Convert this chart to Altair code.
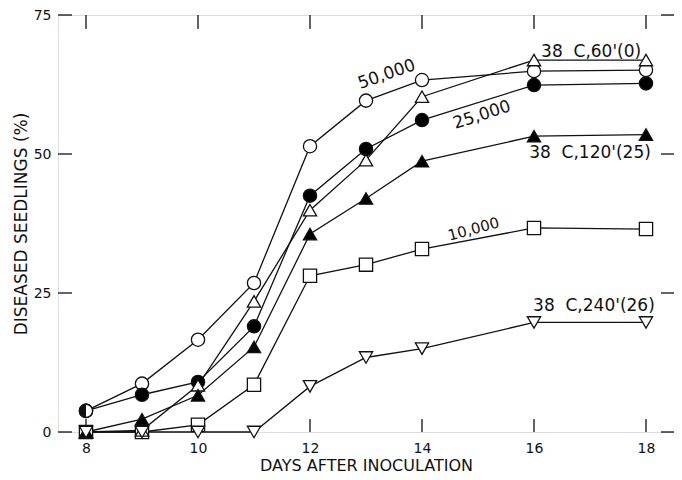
import altair as alt
import pandas as pd

# ---- data ----
days = [8, 9, 10, 11, 12, 13, 14, 16, 18]
series_names = ["50,000", "25,000", "10,000", "38 C,60'(0)", "38 C,120'(25)", "38 C,240'(26)"]
v_50000 = [3.8, 8.7, 16.6, 26.8, 51.4, 59.6, 63.3, 64.9, 65.1]
v_25000 = [3.8, 6.7, 9.0, 19.0, 42.5, 50.9, 56.1, 62.4, 62.7]
v_10000 = [0.0, 0.0, 1.3, 8.5, 28.1, 30.1, 32.9, 36.7, 36.5]
v_60 = [0.0, 0.3, 8.4, 23.5, 39.9, 48.9, 60.3, 66.9, 66.9]
v_120 = [0.0, 2.3, 6.6, 15.3, 35.6, 42.0, 48.7, 53.2, 53.5]
v_240 = [0.0, 0.0, 0.0, 0.0, 8.2, 13.4, 15.0, 19.7, 19.7]

shapes = ["circle", "circle", "square", "triangle-up", "triangle-up", "triangle-down"]
fills = ["white", "black", "white", "white", "black", "white"]
sizes = [175, 175, 110, 170, 170, 170]

x_ticks = [8, 10, 12, 14, 16, 18]
y_ticks = [0, 25, 50, 75]

label_text = ["50,000", "25,000", "10,000", "38\u00a0 C,60'(0)", "38\u00a0 C,120'(25)", "38\u00a0 C,240'(26)"]
label_x = [13.37, 15.07, 14.92, 17.02, 17.0, 17.07]
label_y = [64.3, 57.0, 36.5, 68.4, 50.2, 22.7]
label_angle = [341, 342, 345, 0, 0, 0]
label_size = [17, 17, 15, 17, 17, 17]

# ---- build tables ----
all_vals = [v_50000, v_25000, v_10000, v_60, v_120, v_240]
rows = []
for name, vals in zip(series_names, all_vals):
    for d, v in zip(days, vals):
        rows.append({"series": name, "day": d, "value": v})
df = pd.DataFrame(rows)
half = df[(df.series == "25,000") & (df.day == 8)]

labels = pd.DataFrame({"text": label_text, "day": label_x, "value": label_y,
                       "angle": label_angle, "fs": label_size})
xt = pd.DataFrame({"day": x_ticks})
yt = pd.DataFrame({"value": y_ticks})

W, H = 616, 417
FONT = "DejaVu Sans"
INK = "#111111"

xscale = alt.Scale(domain=[7.5, 18.5], nice=False, zero=False)
yscale = alt.Scale(domain=[0, 75], nice=False)

xaxis = alt.Axis(values=x_ticks, format="d", ticks=False, tickSize=0, domain=False, grid=False,
                 labelFont=FONT, labelFontSize=14, labelColor=INK, labelPadding=9,
                 title="DAYS AFTER INOCULATION", titleFont=FONT, titleFontSize=16,
                 titleFontWeight="normal", titleColor=INK, titlePadding=2)
yaxis = alt.Axis(values=y_ticks, format="d", ticks=False, tickSize=0, domain=False, grid=False,
                 labelFont=FONT, labelFontSize=14, labelColor=INK, labelPadding=7,
                 title="DISEASED SEEDLINGS (%)", titleFont=FONT, titleFontSize=17,
                 titleFontWeight="normal", titleColor=INK, titlePadding=3)

base = alt.Chart(df)

lines = base.mark_line(color=INK, strokeWidth=1.3).encode(
    x=alt.X("day:Q", scale=xscale, axis=xaxis),
    y=alt.Y("value:Q", scale=yscale, axis=yaxis),
    detail="series:N",
    order="day:Q",
)

points = base.mark_point(filled=True, stroke=INK, strokeWidth=1.3, opacity=1).encode(
    x=alt.X("day:Q", scale=xscale),
    y=alt.Y("value:Q", scale=yscale),
    shape=alt.Shape("series:N", scale=alt.Scale(domain=series_names, range=shapes), legend=None),
    fill=alt.Fill("series:N", scale=alt.Scale(domain=series_names, range=fills), legend=None),
    size=alt.Size("series:N", scale=alt.Scale(domain=series_names, range=sizes), legend=None),
)

half_bg = alt.Chart(half).mark_point(shape="circle", filled=True, fill="white", stroke=INK,
                                     strokeWidth=1.3, size=175, opacity=1).encode(
    x=alt.X("day:Q", scale=xscale), y=alt.Y("value:Q", scale=yscale))
half_fg = alt.Chart(half).mark_point(shape="M0,-1A1,1 0 0 0 0,1Z", filled=True, fill=INK,
                                     size=175, opacity=1).encode(
    x=alt.X("day:Q", scale=xscale), y=alt.Y("value:Q", scale=yscale))

tick_b = alt.Chart(xt).mark_tick(color=INK, orient="vertical", size=13, thickness=1.3, opacity=1).encode(
    x=alt.X("day:Q", scale=xscale), y=alt.value(H - 6.5))
tick_t = alt.Chart(xt).mark_tick(color=INK, orient="vertical", size=14, thickness=1.3, opacity=1).encode(
    x=alt.X("day:Q", scale=xscale), y=alt.value(7))
tick_l = alt.Chart(yt).mark_tick(color=INK, orient="horizontal", size=14, thickness=1.3, opacity=1).encode(
    y=alt.Y("value:Q", scale=yscale), x=alt.value(7))
tick_r = alt.Chart(yt).mark_tick(color=INK, orient="horizontal", size=13, thickness=1.3, opacity=1).encode(
    y=alt.Y("value:Q", scale=yscale), x=alt.value(W - 6.5))

texts = alt.Chart(labels).mark_text(font=FONT, color=INK, align="center", baseline="middle").encode(
    x=alt.X("day:Q", scale=xscale),
    y=alt.Y("value:Q", scale=yscale),
    text="text:N",
    angle=alt.Angle("angle:Q", scale=None),
    size=alt.Size("fs:Q", scale=None),
)

chart = alt.layer(lines, tick_b, tick_t, tick_l, tick_r, points, half_bg, half_fg, texts).properties(
    width=W, height=H,
    autosize=alt.AutoSizeParams(type="none"),
    padding={"left": 50, "top": 7, "right": 0, "bottom": 44},
).configure_view(stroke=INK, strokeWidth=1.4).configure(background="white")

chart.save("out.html", embed_options={"renderer": "svg", "actions": False})
